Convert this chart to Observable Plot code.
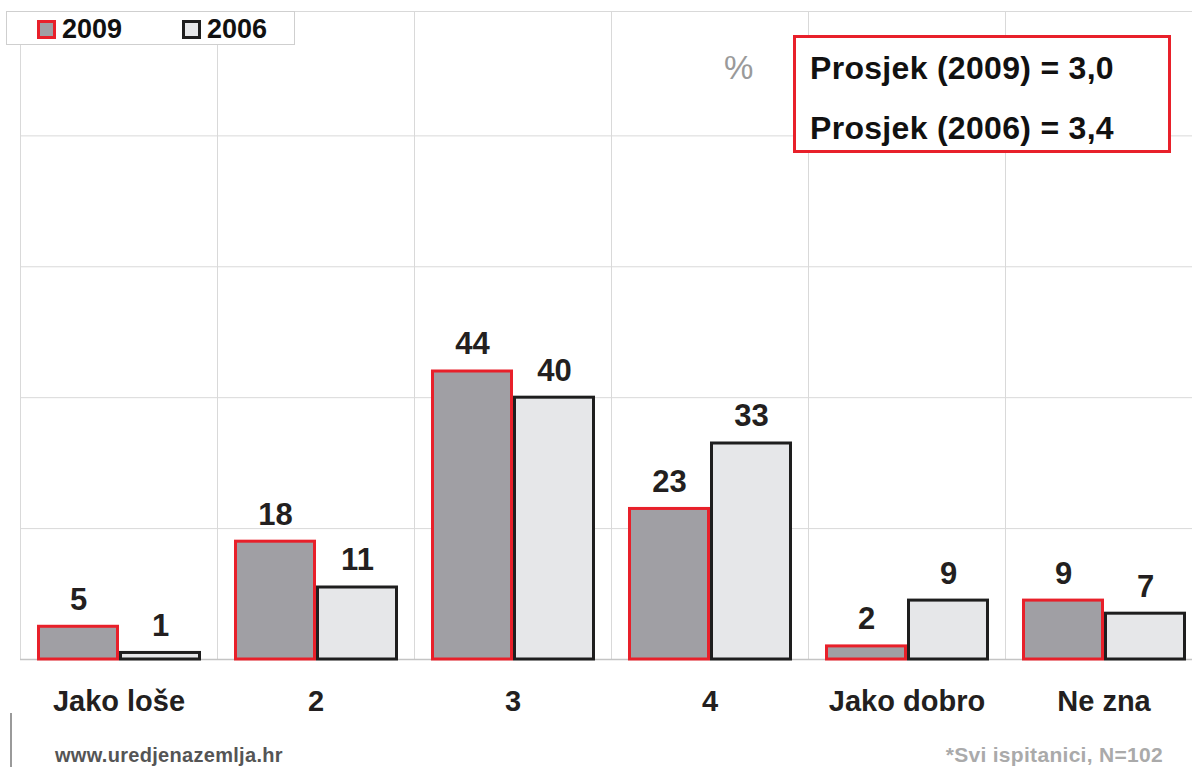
<!DOCTYPE html>
<html>
<head>
<meta charset="utf-8">
<script src="https://cdn.jsdelivr.net/npm/d3@7"></script>
<script src="https://cdn.jsdelivr.net/npm/@observablehq/plot@0.6"></script>
<style>
  html, body { margin: 0; padding: 0; background: #fff; }
  #wrap { position: relative; width: 1192px; height: 767px; overflow: hidden; font-family: "Liberation Sans", Arial, sans-serif; }
  #chart { position: absolute; left: 0; top: 0; }
  .legend { position: absolute; left: 6px; top: 11px; width: 287px; height: 32px; border: 1.5px solid #cfcfcf; background: #fff; }
  .legend .sw { position: absolute; top: 8px; width: 13px; height: 13px; border: 3px solid; }
  .legend .lab { position: absolute; top: 2px; font-size: 27px; font-weight: bold; color: #111; line-height: 30px; }
  .pct { position: absolute; left: 724px; top: 48px; font-size: 33px; color: #9a9a9a; line-height: 40px; }
  .avg { position: absolute; left: 793px; top: 35px; width: 372px; height: 112px; border: 3px solid #e8202a; background: #fff; }
  .avg div { position: absolute; left: 14px; font-size: 32px; letter-spacing: 0.3px; font-weight: bold; color: #111; line-height: 36px; white-space: nowrap; }
  .vline { position: absolute; left: 10px; top: 713px; width: 1.5px; height: 54px; background: #9a9a9a; }
  .foot { position: absolute; top: 744px; font-size: 20px; letter-spacing: 0.3px; font-weight: bold; line-height: 22px; white-space: nowrap; }
</style>
</head>
<body>
<div id="wrap">
  <div id="chart"></div>
  <div class="legend">
    <div class="sw" style="left:30px; background:#a09fa4; border-color:#e8202a;"></div>
    <div class="lab" style="left:55px;">2009</div>
    <div class="sw" style="left:175px; background:#e6e7e9; border-color:#1e1e1e;"></div>
    <div class="lab" style="left:200px;">2006</div>
  </div>
  <div class="pct">%</div>
  <div class="avg">
    <div style="top:12px;">Prosjek (2009) = 3,0</div>
    <div style="top:72px;">Prosjek (2006) = 3,4</div>
  </div>
  <div class="vline"></div>
  <div class="foot" style="left:55px; color:#555;">www.uredjenazemlja.hr</div>
  <div class="foot" style="right:29px; color:#aaaaaa; font-size:21px;">*Svi ispitanici, N=102</div>
</div>
<script>
const categories = ["Jako loše", "2", "3", "4", "Jako dobro", "Ne zna"];
const years = ["2009", "2006"];
const values2009 = [5, 18, 44, 23, 2, 9];
const values2006 = [1, 11, 40, 33, 9, 7];
const gridTicks = [20, 40, 60, 80];

const data = categories.flatMap((c, i) => [
  {cat: c, year: "2009", value: values2009[i]},
  {cat: c, year: "2006", value: values2006[i]}
]);
const d2009 = data.filter(d => d.year === "2009");
const d2006 = data.filter(d => d.year === "2006");

const chart = Plot.plot({
  width: 1202,
  height: 736,
  marginLeft: 20,
  marginRight: 0,
  marginTop: 11,
  marginBottom: 77,
  style: {fontFamily: "'Liberation Sans', Arial, sans-serif", maxWidth: "none", background: "transparent", overflow: "hidden"},
  fx: {domain: categories, padding: 0, label: null},
  x: {domain: years, paddingInner: 0, paddingOuter: 0.2, axis: null},
  y: {domain: [0, 99], axis: null},
  marks: [
    Plot.gridY(gridTicks, {stroke: "#d9d9d9", strokeOpacity: 1}),
    Plot.frame({stroke: "#d9d9d9"}),
    Plot.ruleY([0], {stroke: "#c4c4c4", strokeWidth: 1.5}),
    Plot.barY(d2009, {fx: "cat", x: "year", y: "value", fill: "#a09fa4", stroke: "#e8202a", strokeWidth: 3, insetLeft: 1.5, insetRight: 1.5}),
    Plot.barY(d2006, {fx: "cat", x: "year", y: "value", fill: "#e6e7e9", stroke: "#1e1e1e", strokeWidth: 3, insetLeft: 1.5, insetRight: 1.5}),
    Plot.text(data, {fx: "cat", x: "year", y: "value", text: d => String(d.value), dy: -27, fontSize: 31, fontWeight: "bold", fill: "#231f20"}),
    Plot.axisFx({anchor: "bottom", tickSize: 0, tickPadding: 31, fontSize: 29, fontWeight: "bold", fill: "#231f20", label: null})
  ]
});
document.getElementById("chart").appendChild(chart);
</script>
</body>
</html>
